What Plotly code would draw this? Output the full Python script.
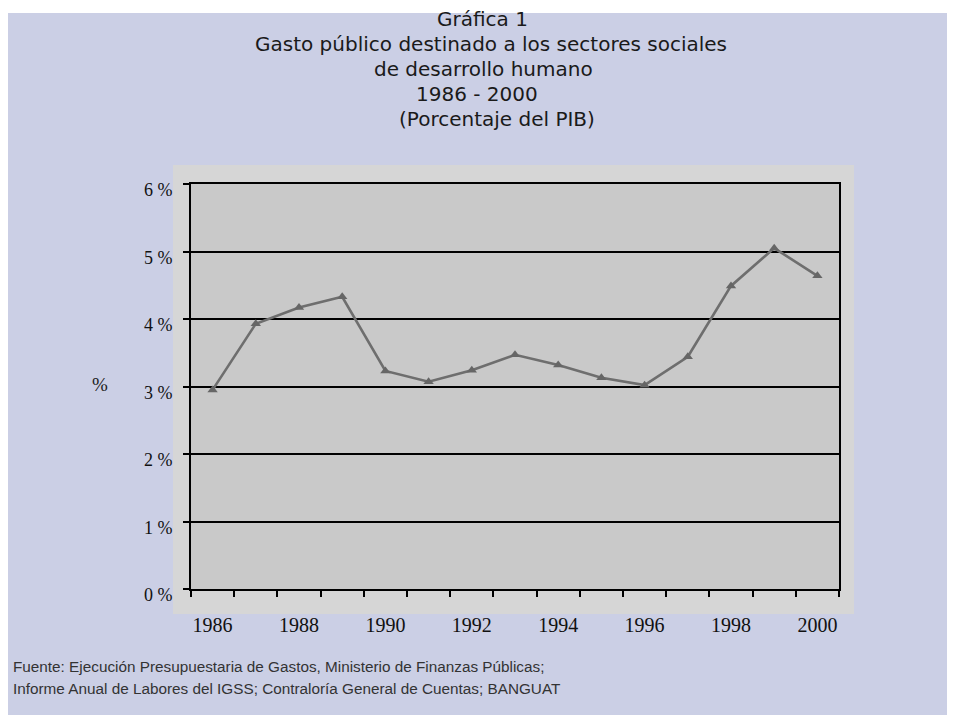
import plotly.graph_objects as go

years = [1986, 1987, 1988, 1989, 1990, 1991, 1992, 1993, 1994, 1995, 1996, 1997, 1998, 1999, 2000]
gasto = [2.95, 3.93, 4.17, 4.33, 3.23, 3.07, 3.24, 3.47, 3.32, 3.13, 3.02, 3.44, 4.49, 5.05, 4.64]
y_ticks = [0, 1, 2, 3, 4, 5, 6]
y_labels = ["0 %", "1 %", "2 %", "3 %", "4 %", "5 %", "6 %"]
x_label_years = years[::2]
title_lines = ["Gráfica 1", "Gasto público destinado a los sectores sociales",
               "de desarrollo humano", "1986 - 2000", "(Porcentaje del PIB)"]
footer_lines = ["Fuente: Ejecución Presupuestaria de Gastos, Ministerio de Finanzas Públicas;",
                "Informe Anual de Labores del IGSS; Contraloría General de Cuentas; BANGUAT"]

OFF = 8  # page body margin
W, H = 955 - OFF, 715 - OFF
# plot area in screenshot pixels
L, R, T, B = 191, 839, 184, 589
pw, ph = R - L, B - T

def px(x):
    return (x - L) / pw

def py(y):
    return (B - y) / ph

fig = go.Figure()
fig.add_trace(go.Scatter(
    x=years, y=gasto, mode="lines+markers",
    line=dict(color="#6e6e6e", width=2.6),
    marker=dict(symbol="triangle-up", size=9, color="#666666"),
    showlegend=False, hoverinfo="x+y"))

shapes = [
    dict(type="rect", xref="paper", yref="paper", x0=px(8), x1=px(970), y0=py(730), y1=py(13),
         fillcolor="#cbcfe5", line=dict(width=0), layer="below"),
    dict(type="rect", xref="paper", yref="paper", x0=px(173), x1=px(854), y0=py(614), y1=py(165),
         fillcolor="#d6d6d6", line=dict(width=0), layer="below"),
    dict(type="rect", xref="paper", yref="paper", x0=0, x1=1, y0=0, y1=1,
         fillcolor="#c9c9c9", line=dict(width=0), layer="below"),
]

annotations = []
title_pos = [(482, 19), (491, 44), (483, 69), (477, 94), (497, 119)]
for text, (cx, cy) in zip(title_lines, title_pos):
    annotations.append(dict(text=text, xref="paper", yref="paper", x=px(cx), y=py(cy),
                            xanchor="center", yanchor="middle", showarrow=False,
                            font=dict(family="DejaVu Sans", size=20, color="#1a1a1a")))
for i, text in enumerate(footer_lines):
    annotations.append(dict(text=text, xref="paper", yref="paper", x=px(11), y=py(666 + 22 * i),
                            xanchor="left", yanchor="middle", showarrow=False,
                            font=dict(family="Liberation Sans", size=15.3, color="#333333")))
annotations.append(dict(text="%", xref="paper", yref="paper", x=px(100), y=py(384),
                        xanchor="center", yanchor="middle", showarrow=False,
                        font=dict(family="Liberation Serif", size=19, color="#222222")))

boundaries = [y - 0.5 for y in years] + [years[-1] + 0.5]

fig.update_layout(
    width=W, height=H,
    margin=dict(l=L - OFF, r=W - (R - OFF), t=T - OFF, b=H - (B - OFF)),
    paper_bgcolor="white", plot_bgcolor="rgba(0,0,0,0)",
    shapes=shapes, annotations=annotations,
    xaxis=dict(range=[years[0] - 0.5, years[-1] + 0.5], tickvals=x_label_years,
               ticktext=[str(y) for y in x_label_years], ticks="", showgrid=False,
               zeroline=False, showline=True, linecolor="black", linewidth=2, mirror=True,
               ticklabelstandoff=17,
               tickfont=dict(family="Liberation Serif", size=20, color="#111111"),
               minor=dict(tickvals=boundaries, ticks="outside", ticklen=6, tickwidth=2,
                          tickcolor="black", showgrid=False)),
    yaxis=dict(range=[0, 6], tickvals=y_ticks, ticktext=y_labels, ticks="outside",
               ticklen=6, tickwidth=2, tickcolor="black", showgrid=True, gridcolor="black",
               gridwidth=2, zeroline=False, showline=True, linecolor="black", linewidth=2,
               mirror=True, ticklabelstandoff=7, ticklabelshift=6,
               tickfont=dict(family="Liberation Serif", size=18, color="#111111")),
)

fig.write_html("out.html")
